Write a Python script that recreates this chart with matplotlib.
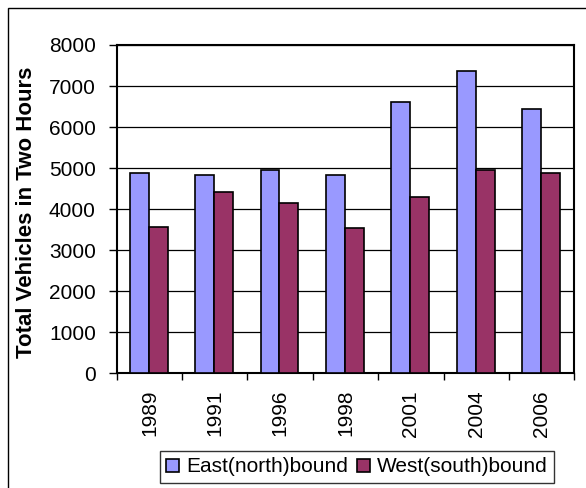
import matplotlib
matplotlib.use("Agg")
import matplotlib.pyplot as plt
import matplotlib.patches as mpatches
import numpy as np

plt.rcParams['font.family'] = ['Liberation Sans', 'DejaVu Sans']

years = ["1989", "1991", "1996", "1998", "2001", "2004", "2006"]
east = [4870, 4830, 4960, 4830, 6610, 7370, 6440]
west = [3570, 4410, 4160, 3530, 4290, 4960, 4880]
series_names = ["East(north)bound", "West(south)bound"]
yticks = [0, 1000, 2000, 3000, 4000, 5000, 6000, 7000, 8000]

W, H = 586, 488
fig = plt.figure(figsize=(W / 100, H / 100), dpi=100)
ax = fig.add_axes([116.7 / W, (H - 373.3) / H, (574.3 - 116.7) / W, (373.3 - 45) / H])

x = np.arange(len(years))
bw = 0.29
ax.bar(x - bw / 2 - 0.01, east, width=bw, color="#9999FF", edgecolor="black", linewidth=1.2, label=series_names[0], zorder=3)
ax.bar(x + bw / 2 - 0.01, west, width=bw, color="#993366", edgecolor="black", linewidth=1.2, label=series_names[1], zorder=3)

ax.set_xlim(-0.5, len(years) - 0.5)
ax.set_ylim(0, 8000)
ax.set_yticks(yticks)
ax.set_yticklabels([str(v) for v in yticks], fontsize=15)
ax.yaxis.grid(True, color="black", linewidth=0.9, zorder=0)
ax.set_axisbelow(True)

ax.set_xticks(x)
ax.set_xticklabels(years, rotation=90, fontsize=15, va="top")
ax.set_xticks(np.arange(len(years) + 1) - 0.5, minor=True)
ax.tick_params(axis="x", which="major", length=0, pad=12)
ax.tick_params(axis="x", which="minor", length=5, width=1, direction="out")
ax.tick_params(axis="y", which="major", length=6, width=1, direction="out", pad=9)

for s in ax.spines.values():
    s.set_linewidth(1.5)
    s.set_color("black")

ax.set_ylabel("Total Vehicles in Two Hours", fontsize=16, fontweight="bold")
ax.yaxis.set_label_coords(-(116.7 - 37) / (574.3 - 116.7), (373.3 - 212) / (373.3 - 45))

leg = fig.legend(loc="center", bbox_to_anchor=(357 / W, (H - 467) / H), ncol=2, fontsize=15,
                 frameon=True, fancybox=False, handlelength=0.6, handleheight=0.6,
                 handletextpad=0.35, columnspacing=0.45, borderpad=0.3)
leg.get_frame().set_edgecolor("black")
leg.get_frame().set_linewidth(1.0)

border = mpatches.Rectangle((8 / W, -0.1), 1.2, (H - 8) / H + 0.1, transform=fig.transFigure,
                            fill=False, edgecolor="black", linewidth=1.0)
fig.patches.append(border)

fig.savefig("out.png", dpi=100)
